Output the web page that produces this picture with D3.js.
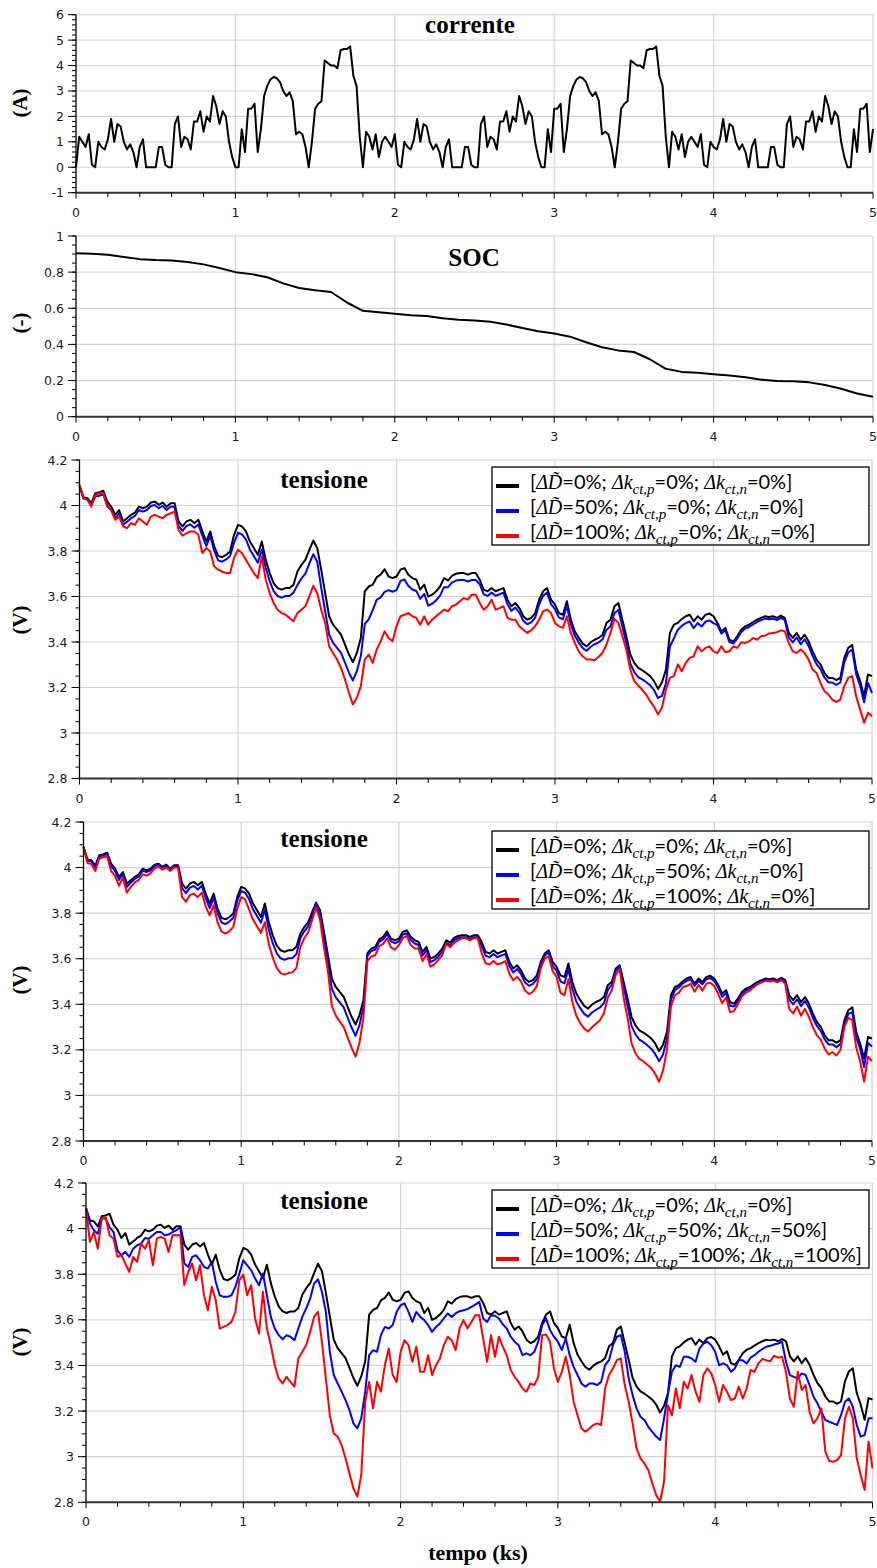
<!DOCTYPE html>
<html><head><meta charset="utf-8">
<script src="https://cdn.jsdelivr.net/npm/d3@7"></script>
<style>body{margin:0;background:#fff}</style>
</head><body><svg id="c" width="877" height="1568"></svg>
<script>
// ---------------- DATA ----------------
const tempoCorrente = d3.range(251).map(i => +(i * 0.02).toFixed(2));
const corrente = [
0,1.2,1.0,0.8,1.3,0.1,0,1.0,0.8,0.7, 1.1,1.9,1.0,1.7,1.6,1.0,0.7,0.9,0.6,0,
0.8,1.1,0,0,0,0,0.8,0.8,0.1,0, 0,1.7,2.0,0.8,1.2,1.1,0.7,1.8,1.8,2.2,
1.4,2.0,1.8,2.8,2.4,1.7,2.2,2.0,1.0,0.4, 0,0,1.5,0.6,2.3,2.3,2.5,0.6,1.5,2.8,
3.2,3.45,3.55,3.5,3.35,3.0,2.8,2.95,2.6,1.3, 1.4,1.3,0.8,0,1.0,2.3,2.5,2.6,4.2,4.1,
4.0,4.0,3.9,4.6,4.65,4.65,4.75,3.6,3.2,1.2, 0,1.4,1.2,0.7,1.3,0.4,1.0,
1.2,1.0,0.8,1.3,0.1,0,1.0,0.8,0.7, 1.1,1.9,1.0,1.7,1.6,1.0,0.7,0.9,0.6,0,
0.8,1.1,0,0,0,0,0.8,0.8,0.1,0, 0,1.7,2.0,0.8,1.2,1.1,0.7,1.8,1.8,2.2,
1.4,2.0,1.8,2.8,2.4,1.7,2.2,2.0,1.0,0.4, 0,0,1.5,0.6,2.3,2.3,2.5,0.6,1.5,2.8,
3.2,3.45,3.55,3.5,3.35,3.0,2.8,2.95,2.6,1.3, 1.4,1.3,0.8,0,1.0,2.3,2.5,2.6,4.2,4.1,
4.0,4.0,3.9,4.6,4.65,4.65,4.75,3.6,3.2,1.2, 0,1.4,1.2,0.7,1.3,0.4,1.0,
1.2,1.0,0.8,1.3,0.1,0,1.0,0.8,0.7, 1.1,1.9,1.0,1.7,1.6,1.0,0.7,0.9,0.6,0,
0.8,1.1,0,0,0,0,0.8,0.8,0.1,0, 0,1.7,2.0,0.8,1.2,1.1,0.7,1.8,1.8,2.2,
1.4,2.0,1.8,2.8,2.4,1.7,2.2,2.0,1.0,0.4, 0,0,1.5,0.6,2.3,2.3,2.5,0.6,1.5
];
const tempoSOC = d3.range(51).map(i => +(i * 0.1).toFixed(1));
const soc = [0.904,0.902,0.896,0.884,0.872,0.867,0.865,0.856,0.843,0.823,
0.800,0.789,0.772,0.738,0.712,0.700,0.690,0.632,0.586,0.578,
0.570,0.561,0.557,0.545,0.537,0.532,0.525,0.510,0.491,0.473,
0.460,0.443,0.412,0.384,0.367,0.358,0.318,0.265,0.248,0.243,
0.235,0.228,0.218,0.205,0.198,0.196,0.190,0.175,0.155,0.128,0.110];

const tempoTensione = d3.range(201).map(i => +(i * 0.025).toFixed(3));
// reference curve [0;0;0] (black, identical in the three voltage panels)
const tensioneRif = [
4.090,4.036,4.032,4.010,4.054,4.058,4.065,4.017,3.995,3.959,
3.980,3.930,3.944,3.959,3.969,3.995,3.988,3.995,4.013,4.017,
4.003,4.013,3.995,4.010,4.010,3.930,3.908,3.930,3.937,3.922,
3.937,3.886,3.842,3.886,3.820,3.779,3.773,3.783,3.798,3.871,
3.915,3.908,3.886,3.842,3.813,3.783,3.842,3.761,3.703,3.659,
3.637,3.630,3.637,3.637,3.652,3.710,3.739,3.761,3.805,3.846,
3.813,3.718,3.615,3.513,3.476,3.454,3.432,3.389,3.345,3.311,
3.352,3.418,3.623,3.644,3.652,3.685,3.696,3.720,3.688,3.681,
3.688,3.718,3.725,3.696,3.681,3.674,3.630,3.652,3.600,3.608,
3.623,3.644,3.681,3.671,3.691,3.700,3.703,3.703,3.696,3.703,
3.703,3.674,3.630,3.623,3.637,3.623,3.630,3.637,3.586,3.557,
3.571,3.549,3.513,3.498,3.506,3.527,3.586,3.623,3.637,3.586,
3.564,3.527,3.520,3.579,3.498,3.447,3.418,3.393,3.381,3.399,
3.410,3.418,3.432,3.484,3.498,3.557,3.571,3.498,3.425,3.345,
3.308,3.286,3.276,3.264,3.250,3.228,3.194,3.223,3.279,3.440,
3.476,3.484,3.501,3.513,3.520,3.491,3.513,3.498,3.520,3.525,
3.513,3.484,3.447,3.462,3.410,3.403,3.425,3.454,3.469,3.476,
3.487,3.498,3.506,3.513,3.510,3.513,3.506,3.516,3.506,3.440,
3.418,3.440,3.410,3.432,3.403,3.359,3.323,3.301,3.264,3.242,
3.242,3.232,3.242,3.330,3.374,3.387,3.279,3.228,3.162,3.257,
3.250];
// panel 3: dD = 50%
const tensioneBluD = [
4.085,4.031,4.027,4.005,4.039,4.043,4.050,4.002,3.980,3.944,
3.965,3.915,3.929,3.944,3.954,3.980,3.973,3.980,3.998,4.002,
3.988,3.998,3.980,3.995,3.995,3.910,3.888,3.910,3.917,3.902,
3.917,3.866,3.822,3.866,3.800,3.759,3.753,3.763,3.778,3.836,
3.880,3.873,3.851,3.807,3.778,3.748,3.807,3.726,3.668,3.624,
3.602,3.595,3.602,3.602,3.617,3.650,3.679,3.701,3.745,3.786,
3.753,3.638,3.535,3.433,3.396,3.374,3.352,3.309,3.265,3.231,
3.272,3.338,3.480,3.500,3.540,3.585,3.596,3.620,3.628,3.621,
3.628,3.668,3.675,3.646,3.631,3.624,3.590,3.612,3.560,3.568,
3.583,3.604,3.641,3.641,3.661,3.670,3.673,3.673,3.666,3.673,
3.673,3.654,3.610,3.603,3.617,3.603,3.610,3.617,3.566,3.537,
3.551,3.529,3.493,3.478,3.486,3.507,3.566,3.603,3.617,3.566,
3.544,3.507,3.500,3.559,3.478,3.427,3.398,3.373,3.361,3.379,
3.390,3.398,3.412,3.454,3.468,3.527,3.541,3.468,3.395,3.305,
3.268,3.246,3.236,3.224,3.210,3.188,3.154,3.163,3.219,3.380,
3.416,3.454,3.471,3.483,3.490,3.461,3.483,3.468,3.490,3.495,
3.483,3.474,3.437,3.452,3.400,3.393,3.415,3.444,3.459,3.466,
3.477,3.488,3.496,3.503,3.500,3.503,3.496,3.506,3.496,3.420,
3.398,3.420,3.390,3.412,3.383,3.339,3.303,3.281,3.244,3.222,
3.222,3.212,3.222,3.310,3.354,3.367,3.259,3.208,3.135,3.220,
3.175];
// panel 3: dD = 100%
const tensioneRossoD = [
4.090,4.032,4.025,3.995,4.047,4.054,4.054,3.995,3.980,3.937,
3.951,3.908,3.900,3.922,3.915,3.944,3.930,3.915,3.951,3.959,
3.951,3.944,3.959,3.966,3.973,3.893,3.867,3.878,3.886,3.886,
3.871,3.791,3.813,3.798,3.732,3.718,3.710,3.703,3.703,3.769,
3.805,3.791,3.761,3.732,3.703,3.681,3.776,3.674,3.615,3.571,
3.542,3.527,3.520,3.506,3.491,3.527,3.542,3.557,3.600,3.647,
3.615,3.542,3.484,3.381,3.352,3.323,3.286,3.235,3.177,3.125,
3.155,3.206,3.323,3.345,3.308,3.367,3.403,3.447,3.418,3.403,
3.469,3.513,3.520,3.527,3.513,3.506,3.476,3.513,3.476,3.498,
3.513,3.527,3.542,3.535,3.557,3.564,3.579,3.593,3.586,3.608,
3.608,3.571,3.542,3.557,3.586,3.542,3.549,3.557,3.506,3.498,
3.498,3.469,3.454,3.440,3.451,3.469,3.498,3.535,3.542,3.527,
3.484,3.469,3.462,3.513,3.440,3.396,3.359,3.337,3.323,3.323,
3.320,3.335,3.352,3.389,3.440,3.501,3.484,3.425,3.367,3.279,
3.228,3.209,3.191,3.169,3.140,3.115,3.082,3.111,3.191,3.242,
3.250,3.301,3.272,3.308,3.330,3.337,3.381,3.359,3.374,3.381,
3.359,3.352,3.381,3.355,3.359,3.381,3.374,3.399,3.396,3.403,
3.418,3.410,3.425,3.428,3.437,3.440,3.443,3.451,3.447,3.396,
3.359,3.352,3.367,3.352,3.323,3.279,3.264,3.220,3.184,3.169,
3.147,3.136,3.147,3.206,3.242,3.250,3.162,3.104,3.045,3.089,
3.074];
// panel 4: dk_ct,p = 50%
const tensioneBluK = [
4.090,4.030,4.026,4.002,4.049,4.053,4.060,4.006,3.985,3.946,
3.971,3.915,3.934,3.950,3.961,3.986,3.980,3.988,4.007,4.013,
3.999,4.008,3.991,4.006,4.006,3.910,3.888,3.912,3.919,3.904,
3.920,3.866,3.822,3.868,3.800,3.759,3.752,3.763,3.780,3.854,
3.898,3.890,3.861,3.817,3.788,3.758,3.815,3.727,3.668,3.624,
3.602,3.595,3.602,3.603,3.620,3.690,3.720,3.742,3.790,3.840,
3.795,3.690,3.585,3.468,3.430,3.408,3.386,3.342,3.298,3.262,
3.308,3.390,3.613,3.634,3.640,3.674,3.685,3.708,3.676,3.668,
3.676,3.706,3.712,3.682,3.667,3.660,3.614,3.638,3.585,3.594,
3.609,3.631,3.670,3.660,3.680,3.690,3.694,3.694,3.687,3.694,
3.694,3.656,3.613,3.607,3.621,3.607,3.614,3.621,3.568,3.540,
3.555,3.532,3.496,3.481,3.490,3.510,3.576,3.614,3.627,3.568,
3.547,3.500,3.492,3.555,3.467,3.412,3.383,3.358,3.346,3.364,
3.376,3.386,3.405,3.463,3.485,3.547,3.565,3.475,3.395,3.305,
3.268,3.245,3.234,3.220,3.205,3.182,3.150,3.180,3.250,3.420,
3.462,3.474,3.491,3.503,3.510,3.481,3.503,3.488,3.510,3.515,
3.503,3.472,3.433,3.450,3.394,3.390,3.414,3.446,3.461,3.469,
3.481,3.494,3.502,3.509,3.506,3.509,3.502,3.512,3.500,3.422,
3.400,3.422,3.392,3.414,3.385,3.341,3.305,3.283,3.246,3.224,
3.224,3.212,3.225,3.315,3.358,3.365,3.255,3.204,3.125,3.230,
3.215];
// panel 4: dk_ct,p = 100%
const tensioneRossoK = [
4.090,4.020,4.015,3.985,4.040,4.045,4.050,3.985,3.965,3.920,
3.955,3.890,3.915,3.935,3.945,3.970,3.965,3.975,3.995,4.005,
3.990,4.000,3.985,4.000,4.000,3.870,3.850,3.880,3.885,3.870,
3.890,3.830,3.790,3.835,3.760,3.720,3.710,3.720,3.740,3.820,
3.870,3.860,3.816,3.772,3.743,3.713,3.760,3.665,3.605,3.560,
3.537,3.530,3.537,3.540,3.560,3.650,3.690,3.715,3.770,3.825,
3.770,3.650,3.545,3.393,3.350,3.325,3.300,3.255,3.210,3.170,
3.230,3.340,3.590,3.610,3.615,3.655,3.665,3.690,3.650,3.640,
3.660,3.690,3.700,3.660,3.645,3.645,3.590,3.620,3.565,3.575,
3.595,3.615,3.665,3.650,3.670,3.680,3.690,3.690,3.680,3.690,
3.690,3.625,3.580,3.575,3.590,3.575,3.580,3.590,3.535,3.505,
3.520,3.500,3.460,3.445,3.455,3.480,3.560,3.600,3.610,3.545,
3.520,3.450,3.440,3.510,3.410,3.350,3.318,3.293,3.281,3.299,
3.315,3.330,3.360,3.430,3.460,3.530,3.555,3.430,3.340,3.230,
3.185,3.160,3.150,3.135,3.120,3.095,3.060,3.110,3.200,3.390,
3.440,3.450,3.475,3.480,3.490,3.455,3.485,3.460,3.490,3.495,
3.480,3.445,3.405,3.430,3.365,3.370,3.400,3.435,3.450,3.460,
3.475,3.488,3.496,3.503,3.500,3.503,3.496,3.506,3.490,3.380,
3.360,3.390,3.350,3.380,3.345,3.300,3.265,3.245,3.205,3.180,
3.190,3.175,3.200,3.300,3.340,3.330,3.210,3.150,3.060,3.170,
3.150];
// panel 5: all 50%
const tensioneBluTutti = [
4.090,4.022,3.993,3.978,4.044,4.044,4.007,3.985,3.905,3.883,
3.898,3.876,3.912,3.927,3.934,3.959,3.956,3.971,3.985,3.985,
3.971,3.974,3.985,3.993,4.007,3.847,3.832,3.876,3.883,3.861,
3.832,3.825,3.854,3.766,3.708,3.701,3.701,3.708,3.745,3.803,
3.861,3.839,3.818,3.781,3.752,3.803,3.708,3.613,3.562,3.533,
3.515,3.533,3.526,3.511,3.562,3.613,3.650,3.693,3.759,3.778,
3.723,3.635,3.460,3.358,3.321,3.285,3.248,3.204,3.146,3.124,
3.168,3.285,3.445,3.467,3.460,3.533,3.569,3.562,3.577,3.635,
3.664,3.672,3.635,3.591,3.635,3.613,3.599,3.577,3.547,3.569,
3.584,3.606,3.628,3.613,3.628,3.638,3.642,3.647,3.657,3.667,
3.679,3.606,3.591,3.620,3.618,3.606,3.580,3.562,3.526,3.504,
3.489,3.445,3.453,3.445,3.460,3.504,3.577,3.606,3.555,3.526,
3.504,3.467,3.518,3.445,3.394,3.358,3.321,3.307,3.321,3.321,
3.314,3.328,3.401,3.423,3.489,3.526,3.533,3.460,3.343,3.270,
3.212,3.175,3.161,3.131,3.109,3.088,3.073,3.168,3.277,3.372,
3.401,3.394,3.438,3.438,3.431,3.416,3.474,3.496,3.504,3.489,
3.460,3.401,3.409,3.401,3.372,3.387,3.423,3.423,3.409,3.434,
3.445,3.460,3.472,3.482,3.486,3.492,3.496,3.504,3.416,3.358,
3.350,3.343,3.365,3.358,3.314,3.263,3.234,3.197,3.161,3.153,
3.146,3.139,3.182,3.241,3.255,3.219,3.139,3.088,3.095,3.168,
3.168];
// panel 5: all 100%
const tensioneRossoTutti = [
4.090,3.942,3.985,3.912,4.044,4.051,3.971,3.956,3.876,3.883,
3.847,3.810,3.876,3.854,3.934,3.912,3.949,3.839,3.956,3.964,
3.956,3.898,3.971,3.971,3.971,3.752,3.810,3.847,3.774,3.839,
3.708,3.642,3.745,3.686,3.562,3.569,3.577,3.591,3.635,3.774,
3.799,3.708,3.752,3.606,3.540,3.723,3.562,3.489,3.401,3.343,
3.321,3.350,3.328,3.307,3.431,3.460,3.489,3.547,3.613,3.635,
3.504,3.343,3.182,3.102,3.088,3.051,2.993,2.927,2.861,2.825,
2.920,3.241,3.328,3.212,3.328,3.285,3.401,3.474,3.358,3.328,
3.460,3.511,3.489,3.416,3.482,3.372,3.372,3.445,3.358,3.401,
3.431,3.489,3.526,3.511,3.467,3.562,3.599,3.562,3.591,3.620,
3.620,3.518,3.416,3.533,3.438,3.526,3.482,3.445,3.380,3.350,
3.328,3.299,3.285,3.321,3.314,3.350,3.533,3.536,3.504,3.387,
3.328,3.372,3.438,3.358,3.241,3.182,3.124,3.109,3.124,3.139,
3.146,3.139,3.299,3.358,3.387,3.423,3.431,3.314,3.241,3.146,
3.036,2.993,2.971,2.942,2.883,2.832,2.803,2.891,3.226,3.182,
3.299,3.212,3.328,3.299,3.358,3.285,3.241,3.358,3.387,3.365,
3.314,3.241,3.314,3.285,3.248,3.255,3.307,3.255,3.299,3.380,
3.372,3.409,3.428,3.423,3.419,3.442,3.434,3.438,3.372,3.255,
3.219,3.372,3.292,3.314,3.197,3.146,3.168,3.212,3.022,2.981,
2.978,2.985,3.007,3.168,3.219,3.168,2.993,2.920,2.854,3.066,
2.949];

const tickTempo = [0, 1, 2, 3, 4, 5];
const titoli = ["corrente", "SOC", "tensione", "tensione", "tensione"];
const unita = ["(A)", "(-)", "(V)", "(V)", "(V)"];
// legend rows: [dD, dk_ct,p, dk_ct,n] in %
const legenda3 = [["0","0","0"], ["50","0","0"], ["100","0","0"]];
const legenda4 = [["0","0","0"], ["0","50","0"], ["0","100","0"]];
const legenda5 = [["0","0","0"], ["50","50","50"], ["100","100","100"]];
const colori = ["#000000", "#0000ff", "#ff0000"];

// ---------------- DRAW ----------------
const svg = d3.select("#c");
const tickFont = "'DejaVu Sans', Verdana, sans-serif";
const serif = "'Liberation Serif', 'Times New Roman', serif";

function pannello(cfg) {
  const x = d3.scaleLinear([0, 5], [cfg.x0, cfg.x1]);
  const y = d3.scaleLinear(cfg.dom, [cfg.yBot, cfg.yTop]);
  const g = svg.append("g");
  const nMaj = Math.round((cfg.dom[1] - cfg.dom[0]) / cfg.major);
  const majY = d3.range(nMaj + 1).map(i => +(cfg.dom[0] + i * cfg.major).toFixed(3));
  const nMin = Math.round((cfg.dom[1] - cfg.dom[0]) / cfg.minor);
  const minY = d3.range(nMin + 1).map(i => +(cfg.dom[0] + i * cfg.minor).toFixed(3));
  const minX = d3.range(26).map(i => +(i * 0.2).toFixed(1));

  // grid
  g.selectAll(".gy").data(majY).join("line")
    .attr("x1", cfg.x0).attr("x2", cfg.x1)
    .attr("y1", d => y(d)).attr("y2", d => y(d))
    .attr("stroke", "#d4d4d4").attr("stroke-width", 1.2);
  g.selectAll(".gx").data(tickTempo.slice(1)).join("line")
    .attr("x1", d => x(d)).attr("x2", d => x(d))
    .attr("y1", cfg.yTop).attr("y2", cfg.yBot)
    .attr("stroke", "#d4d4d4").attr("stroke-width", 1.2);

  // lines
  const line = d3.line().x(d => x(d[0])).y(d => y(d[1]));
  cfg.serie.forEach((s, i) => {
    g.append("path").datum(s.t.map((t, j) => [t, s.v[j]]))
      .attr("d", line).attr("fill", "none")
      .attr("stroke", s.c).attr("stroke-width", 2).attr("stroke-linejoin", "round");
  });

  // left axis
  g.append("line").attr("x1", cfg.x0).attr("x2", cfg.x0)
    .attr("y1", cfg.yTop).attr("y2", cfg.yBot).attr("stroke", "#000").attr("stroke-width", 1.3);
  g.selectAll(".tmin").data(minY).join("line")
    .attr("x1", cfg.x0 - 4).attr("x2", cfg.x0).attr("y1", d => y(d)).attr("y2", d => y(d))
    .attr("stroke", "#000").attr("stroke-width", 1);
  g.selectAll(".tmaj").data(majY).join("line")
    .attr("x1", cfg.x0 - 8).attr("x2", cfg.x0).attr("y1", d => y(d)).attr("y2", d => y(d))
    .attr("stroke", "#000").attr("stroke-width", 1);
  g.selectAll(".ly").data(majY).join("text")
    .attr("x", cfg.x0 - 12).attr("y", d => y(d) + 4.5)
    .attr("text-anchor", "end").attr("font-family", tickFont).attr("font-size", 12.5)
    .attr("fill", "#1a1a1a").text(d => cfg.fmt(d));

  // bottom axis
  g.append("line").attr("x1", cfg.x0).attr("x2", cfg.x1)
    .attr("y1", cfg.yBot).attr("y2", cfg.yBot).attr("stroke", "#333").attr("stroke-width", 2);
  g.selectAll(".tx").data(minX).join("line")
    .attr("x1", d => x(d)).attr("x2", d => x(d))
    .attr("y1", cfg.yBot).attr("y2", d => cfg.yBot + (Number.isInteger(d) ? 6 : 4.5))
    .attr("stroke", "#000").attr("stroke-width", 1);
  g.selectAll(".lx").data(tickTempo).join("text")
    .attr("x", d => x(d)).attr("y", cfg.yBot + 24)
    .attr("text-anchor", "middle").attr("font-family", tickFont).attr("font-size", 12.5)
    .attr("fill", "#1a1a1a").text(d => d);

  // title
  g.append("text").attr("x", cfg.tx).attr("y", cfg.ty).attr("text-anchor", "middle")
    .attr("font-family", serif).attr("font-weight", "bold").attr("font-size", 25)
    .text(cfg.titolo);
  // unit
  g.append("text").attr("transform", `translate(${cfg.ux},${cfg.uy}) rotate(-90)`)
    .attr("text-anchor", "middle").attr("font-family", serif).attr("font-weight", "bold")
    .attr("font-size", 21).text(cfg.unita);

  if (cfg.legenda) legenda(g, cfg.legenda, cfg.legTop);
}

function legenda(g, righe, top) {
  const left = 492, w = 377, h = 78;
  g.append("rect").attr("x", left).attr("y", top).attr("width", w).attr("height", h)
    .attr("fill", "#fff").attr("stroke", "#000").attr("stroke-width", 1.3);
  righe.forEach((r, i) => {
    const cy = top + 16 + i * 25;
    g.append("rect").attr("x", 496).attr("y", cy + 1).attr("width", 23).attr("height", 4)
      .attr("fill", colori[i]);
    const t = g.append("text").attr("x", 530).attr("y", cy + 6)
      .attr("font-family", "Lato, 'Open Sans', sans-serif").attr("font-size", 20).attr("fill", "#000");
    const it = (s) => t.append("tspan").attr("font-family", serif).attr("font-style", "italic").text(s);
    const pl = (s, dy) => { const sp = t.append("tspan").text(s); if (dy) sp.attr("dy", dy); return sp; };
    const sub = (s) => t.append("tspan").attr("font-family", serif).attr("font-style", "italic")
      .attr("font-size", 15).attr("dy", 5).text(s);
    pl("[");
    it("\u0394D\u0303");
    pl("=" + r[0] + "%; ");
    it("\u0394k");
    sub("ct,p");
    pl("=" + r[1] + "%; ", -5);
    it("\u0394k");
    sub("ct,n");
    pl("=" + r[2] + "%]", -5);
  });
}

const fmtV = d => String(+d.toFixed(2));

pannello({ x0: 76, x1: 873, yTop: 14.7, yBot: 192.7, dom: [-1, 6], major: 1, minor: 0.2,
  fmt: d => String(d), titolo: titoli[0], tx: 470, ty: 33, unita: unita[0], ux: 27, uy: 103,
  serie: [{ t: tempoCorrente, v: corrente, c: "#000" }] });

pannello({ x0: 76, x1: 873, yTop: 236, yBot: 416.7, dom: [0, 1], major: 0.2, minor: 0.05,
  fmt: fmtV, titolo: titoli[1], tx: 474, ty: 266, unita: unita[1], ux: 27, uy: 323,
  serie: [{ t: tempoSOC, v: soc, c: "#000" }] });

pannello({ x0: 79.5, x1: 872, yTop: 460, yBot: 778.5, dom: [2.8, 4.2], major: 0.2, minor: 0.05,
  fmt: fmtV, titolo: titoli[2], tx: 324, ty: 488, unita: unita[2], ux: 27, uy: 620,
  legenda: legenda3, legTop: 467,
  serie: [{ t: tempoTensione, v: tensioneRif, c: colori[0] },
          { t: tempoTensione, v: tensioneBluD, c: colori[1] },
          { t: tempoTensione, v: tensioneRossoD, c: colori[2] }] });

pannello({ x0: 83.5, x1: 872, yTop: 822, yBot: 1141, dom: [2.8, 4.2], major: 0.2, minor: 0.05,
  fmt: fmtV, titolo: titoli[3], tx: 324, ty: 847, unita: unita[3], ux: 27, uy: 980,
  legenda: legenda4, legTop: 831,
  serie: [{ t: tempoTensione, v: tensioneRif, c: colori[0] },
          { t: tempoTensione, v: tensioneBluK, c: colori[1] },
          { t: tempoTensione, v: tensioneRossoK, c: colori[2] }] });

pannello({ x0: 86, x1: 872.5, yTop: 1183, yBot: 1502.3, dom: [2.8, 4.2], major: 0.2, minor: 0.05,
  fmt: fmtV, titolo: titoli[4], tx: 324, ty: 1209, unita: unita[4], ux: 27, uy: 1342,
  legenda: legenda5, legTop: 1190,
  serie: [{ t: tempoTensione, v: tensioneRif, c: colori[0] },
          { t: tempoTensione, v: tensioneBluTutti, c: colori[1] },
          { t: tempoTensione, v: tensioneRossoTutti, c: colori[2] }] });

svg.append("text").attr("x", 478).attr("y", 1560).attr("text-anchor", "middle")
  .attr("font-family", serif).attr("font-weight", "bold").attr("font-size", 22)
  .text("tempo (ks)");
</script></body></html>
